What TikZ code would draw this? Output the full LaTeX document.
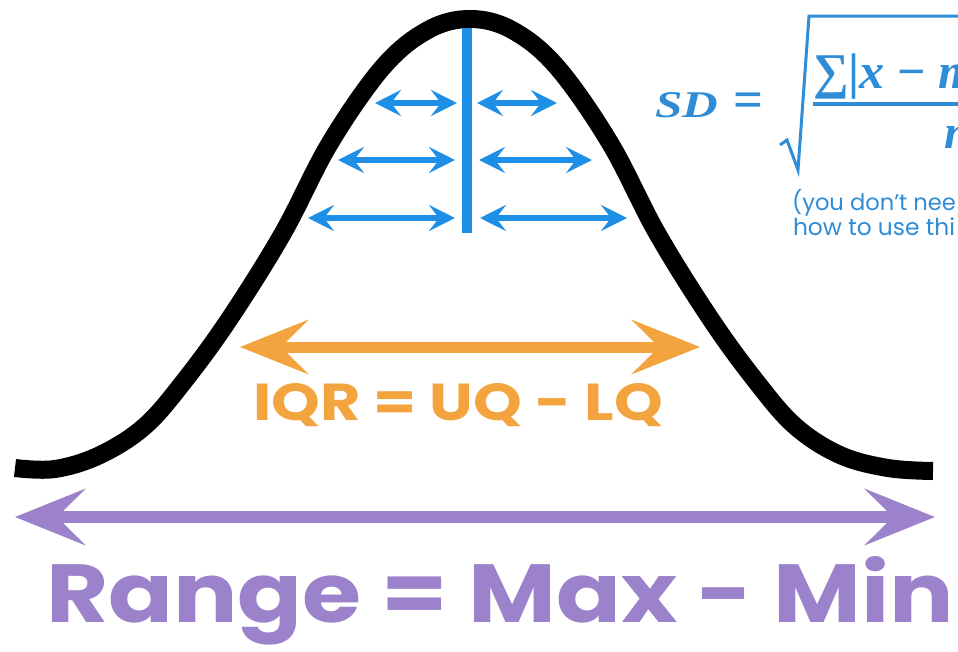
\documentclass[tikz,border=0pt]{standalone}
\usepackage{fontspec}
\usepackage{graphicx}
\setmainfont{Poppins}
\newfontfamily\serifmath{Liberation Serif}
\usetikzlibrary{arrows.meta}
\definecolor{sdblue}{HTML}{1E8FE6}
\definecolor{formulablue}{HTML}{2E8DD6}
\definecolor{iqrorange}{HTML}{F4A43E}
\definecolor{rangepurple}{HTML}{9C82CB}
\tikzset{
  bellcurve/.style={line width=18pt, black, line join=round},
  spreadarrow/.style={sdblue, line width=6pt, {Stealth[length=26pt,width=26pt,inset=10pt]}-{Stealth[length=26pt,width=26pt,inset=10pt]}},
  iqrarrow/.style={iqrorange, line width=11pt, {Stealth[length=68pt,width=54pt,inset=27pt]}-{Stealth[length=68pt,width=54pt,inset=27pt]}},
  rangearrow/.style={rangepurple, line width=12pt, {Stealth[length=70pt,width=56pt,inset=28pt]}-{Stealth[length=70pt,width=56pt,inset=28pt]}},
  txt/.style={inner sep=0pt, outer sep=0pt},
}
\begin{document}
\begin{tikzpicture}[x=1pt,y=-1pt]
\useasboundingbox (0,0) rectangle (958,651);
\clip (0,0) rectangle (958,651);
\fill[white] (0,0) rectangle (958,651);

% bell curve
\draw[bellcurve] plot[smooth, tension=0.6] coordinates {
 (15,468) (55,469) (100,455) (145,426) (185,380) (230,318) (283,233)
 (330,143) (383,67) (428,30) (470,19)
 (512,30) (557,67) (610,143) (657,233) (710,318) (755,380) (795,426)
 (840,455) (888,468) (933,471)};

% mean line
\coordinate (mtop) at (467,28);
\coordinate (mbot) at (467,233);
\draw[sdblue, line width=10pt] (mtop) -- (mbot);

% deviation arrows
\coordinate (a1l) at (375,103); \coordinate (a1r) at (457,103);
\coordinate (b1l) at (477,103); \coordinate (b1r) at (557,103);
\coordinate (a2l) at (338,160); \coordinate (a2r) at (455,160);
\coordinate (b2l) at (479,160); \coordinate (b2r) at (592,160);
\coordinate (a3l) at (308,218); \coordinate (a3r) at (455,218);
\coordinate (b3l) at (480,218); \coordinate (b3r) at (627,218);
\draw[spreadarrow] (a1l) -- (a1r);
\draw[spreadarrow] (b1l) -- (b1r);
\draw[spreadarrow] (a2l) -- (a2r);
\draw[spreadarrow] (b2l) -- (b2r);
\draw[spreadarrow] (a3l) -- (a3r);
\draw[spreadarrow] (b3l) -- (b3r);

% IQR arrow and label
\coordinate (iqrl) at (240,347);
\coordinate (iqrr) at (700,347);
\draw[iqrarrow] (iqrl) -- (iqrr);
\node[txt, anchor=base west, text=iqrorange] (iqr) at (253,420)
  {\resizebox{410pt}{37pt}{\bfseries IQR = UQ - LQ}};

% Range arrow and label
\coordinate (rngl) at (15,517);
\coordinate (rngr) at (935,517);
\draw[rangearrow] (rngl) -- (rngr);
\node[txt, anchor=base west, text=rangepurple] (range) at (46,622)
  {\resizebox{908pt}{66pt}{\bfseries Range = Max - Min}};

% SD formula
\node[txt, anchor=base west, text=formulablue] (sd) at (655,117)
  {\resizebox{63pt}{25pt}{\serifmath\bfseries\itshape SD}};
\node[txt, anchor=base west, text=formulablue] (eq) at (733,117)
  {\resizebox{30pt}{!}{\serifmath\bfseries =}};
\coordinate (r1) at (780,145);
\coordinate (r2) at (787,140);
\coordinate (r3) at (798,170);
\coordinate (r4) at (809,16);
\coordinate (r5) at (958,16);
\draw[formulablue, line width=3pt, line join=miter] (r1) -- (r2) -- (r3) -- (r4) -- (r5);
\coordinate (fb1) at (813,104);
\coordinate (fb2) at (958,104);
\draw[formulablue, line width=3.5pt] (fb1) -- (fb2);
\node[txt, anchor=base west, text=formulablue] (num) at (813,88)
  {\fontsize{50}{52}\selectfont\serifmath\bfseries ∑|\textit{x} − \textit{m}};
\node[txt, anchor=base west, text=formulablue] (den) at (944,148)
  {\fontsize{48}{50}\selectfont\serifmath\bfseries\itshape n};
\node[txt, anchor=base west, text=formulablue] (note1) at (792,210)
  {\resizebox{164pt}{!}{(you don’t nee}};
\node[txt, anchor=base west, text=formulablue] (note2) at (793,235)
  {\resizebox{162pt}{!}{how to use thi}};
\end{tikzpicture}
\end{document}
